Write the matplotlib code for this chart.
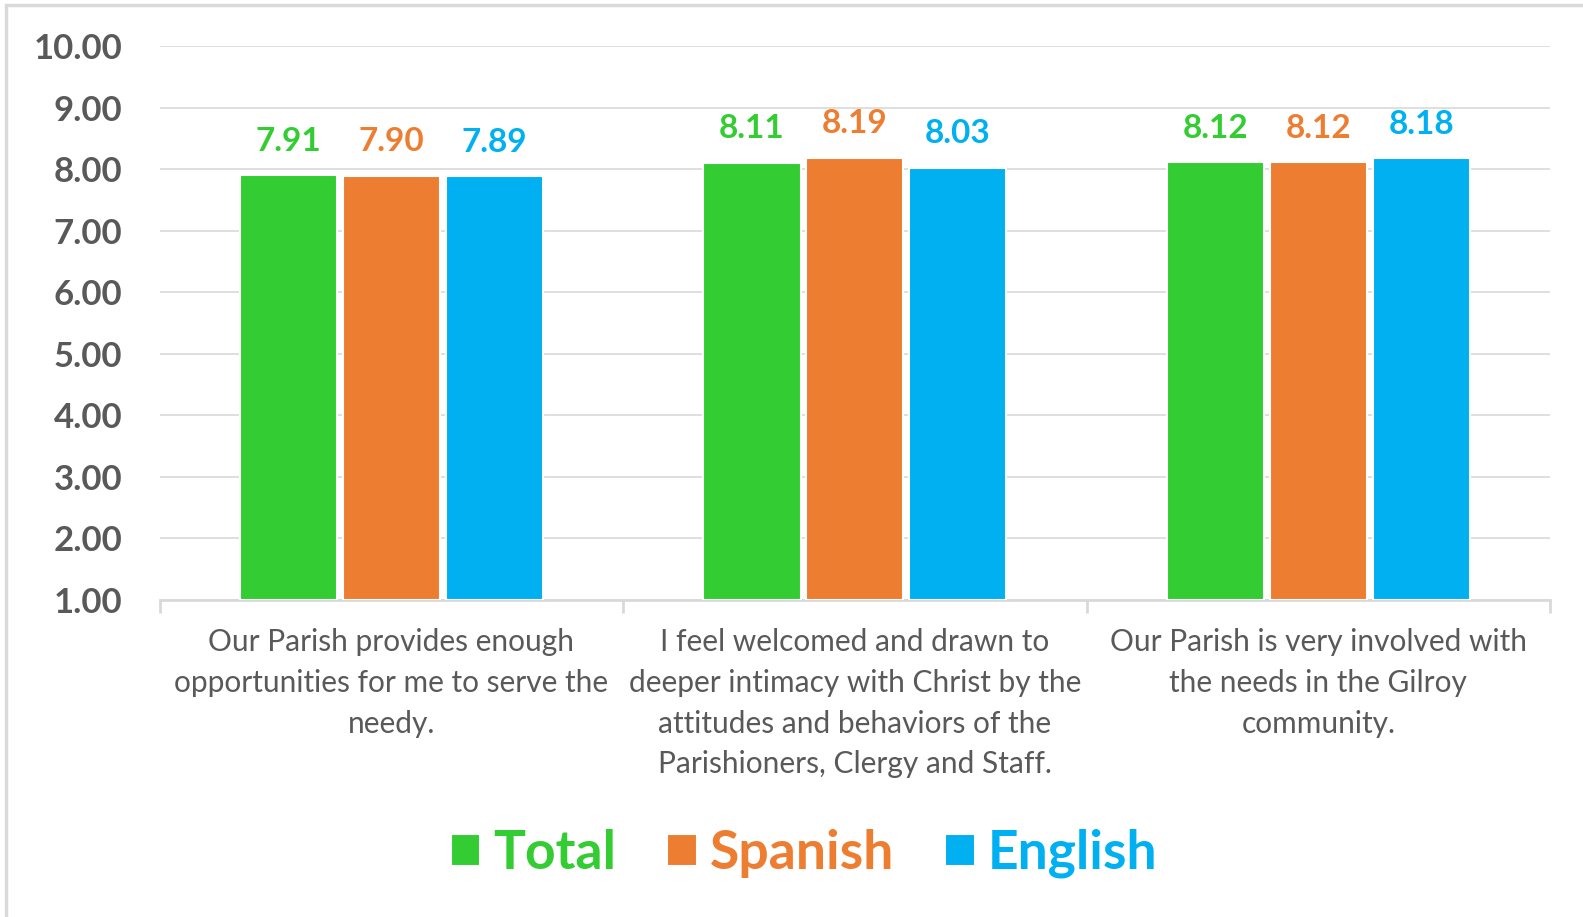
import numpy as np
import matplotlib.pyplot as plt
from matplotlib.patches import Rectangle

plt.rcParams['font.family'] = ['Lato', 'DejaVu Sans']

categories = [
    "Our Parish provides enough\nopportunities for me to serve the\nneedy.",
    "I feel welcomed and drawn to\ndeeper intimacy with Christ by the\nattitudes and behaviors of the\nParishioners, Clergy and Staff.",
    "Our Parish is very involved with\nthe needs in the Gilroy\ncommunity.",
]
series_names = ["Total", "Spanish", "English"]
total = [7.91, 8.11, 8.12]
spanish = [7.90, 8.19, 8.12]
english = [7.89, 8.03, 8.18]
colors = ["#33CC33", "#ED7D31", "#00B0F0"]
yticks = [1, 2, 3, 4, 5, 6, 7, 8, 9, 10]

fig = plt.figure(figsize=(15.83, 9.17), dpi=100)
ax = fig.add_axes([0.1008, 0.3457, 0.8784, 0.6036])

x = np.arange(len(categories))
width = 0.21
step = 0.222
base = 1.0
for i, (vals, name, c) in enumerate(zip([total, spanish, english], series_names, colors)):
    pos = x + (i - 1) * step
    heights = np.array(vals) - base
    ax.bar(pos, heights, width, bottom=base, color=c, edgecolor="white",
           linewidth=1.5, label=name, zorder=3)
    for p, v in zip(pos, vals):
        ax.annotate(f"{v:.2f}", (p, v), xytext=(0, 14), textcoords="offset points",
                    ha="center", va="bottom", color=c, fontsize=24,
                    fontweight="bold")

ax.set_xlim(-0.5, len(categories) - 0.5)
ax.set_ylim(1, 10)
ax.set_yticks(yticks)
ax.set_yticklabels([f"{t:.2f}" for t in yticks], fontsize=25, fontweight="bold",
                   color="#595959")
ax.yaxis.grid(True, color="#D9D9D9", linewidth=1.2, zorder=0)
ax.set_axisbelow(True)
ax.tick_params(axis="y", length=0, pad=27)

ax.set_xticks(x)
ax.set_xticklabels(categories, fontsize=21.5, color="#595959", linespacing=1.56)
ax.tick_params(axis="x", length=0, pad=20)
# category boundary ticks
ax.set_xticks(np.arange(len(categories) + 1) - 0.5, minor=True)
ax.tick_params(axis="x", which="minor", length=9, color="#D9D9D9", width=2)

for s in ["top", "right", "left"]:
    ax.spines[s].set_visible(False)
ax.spines["bottom"].set_color("#D9D9D9")
ax.spines["bottom"].set_linewidth(2)

leg = fig.legend(loc="center", bbox_to_anchor=(0.508, 0.069), ncol=3, frameon=False,
                 prop={"size": 38.5, "weight": "bold"}, handlelength=0.55,
                 handleheight=0.55, handletextpad=0.25, columnspacing=0.95)
for txt, c in zip(leg.get_texts(), colors):
    txt.set_color(c)

# outer chart border
fig.patches.append(Rectangle((6 / 1583, -0.05), 1.2, 1.05 - 5 / 917,
                             transform=fig.transFigure, fill=False,
                             edgecolor="#D9D9D9", linewidth=2.5))

fig.savefig("out.png", dpi=100)
